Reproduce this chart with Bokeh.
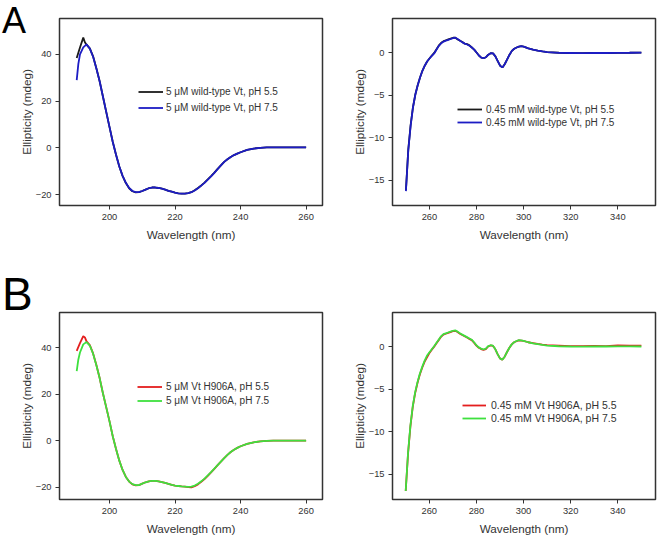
from bokeh.plotting import figure
from bokeh.models import (Range1d, FixedTicker, Legend, LegendItem, Div, GridBox)
from bokeh.embed import file_html
from bokeh.resources import INLINE

# ---------------- far-UV spectra, wild-type Vt (5 uM) ----------------
wt_far_nm_55 = [190, 191, 192, 192.5, 193, 194, 195, 196, 197, 198, 199, 200,
                201, 202, 203, 204, 205, 206, 207, 208, 209, 210, 211, 212,
                213, 214, 215, 216, 217, 218, 219, 220, 221, 222, 223, 224,
                225, 226, 227, 228, 229, 230, 231, 232, 233, 234, 235, 236,
                237, 238, 239, 240, 242, 244, 246, 248, 250, 255, 260]
wt_far_pH55 = [38.5, 43.0, 47.2, 45.2, 44.2, 42.6, 39.2, 34.1, 28.5, 22.0, 15.4, 9.0,
               2.6, -3.0, -8.0, -12.0, -15.1, -17.3, -18.6, -19.1, -19.0, -18.5, -17.9, -17.3,
               -17.0, -17.0, -17.2, -17.5, -17.9, -18.4, -18.8, -19.2, -19.5, -19.6, -19.6, -19.4,
               -19.0, -18.2, -17.2, -16.1, -14.9, -13.5, -12.1, -10.6, -9.0, -7.5, -6.0, -4.9,
               -3.9, -3.1, -2.5, -1.9, -0.9, -0.3, 0.0, 0.2, 0.2, 0.2, 0.2]

wt_far_nm_75 = [190, 190.5, 191, 192, 193, 194, 195, 196, 197, 198, 199, 200,
                201, 202, 203, 204, 205, 206, 207, 208, 209, 210, 211, 212,
                213, 214, 215, 216, 217, 218, 219, 220, 221, 222, 223, 224,
                225, 226, 227, 228, 229, 230, 231, 232, 233, 234, 235, 236,
                237, 238, 239, 240, 242, 244, 246, 248, 250, 255, 260]
wt_far_pH75 = [29.0, 36.0, 40.0, 43.0, 44.3, 42.5, 39.0, 34.0, 28.5, 22.0, 15.5, 9.0,
               2.5, -3.0, -8.0, -12.0, -15.0, -17.2, -18.5, -19.0, -19.0, -18.5, -17.9, -17.3,
               -17.0, -17.0, -17.2, -17.5, -17.9, -18.4, -18.8, -19.2, -19.5, -19.6, -19.6, -19.4,
               -19.0, -18.3, -17.3, -16.2, -15.0, -13.6, -12.2, -10.7, -9.1, -7.5, -6.0, -4.9,
               -3.9, -3.1, -2.5, -1.9, -0.9, -0.3, 0.0, 0.2, 0.2, 0.2, 0.2]

# ---------------- near-UV spectra, wild-type Vt (0.45 mM) ----------------
near_nm = [250, 251, 252, 253, 254, 255, 256, 257, 258, 259, 260, 261, 262, 263,
           264, 265, 266, 267, 268, 269, 270, 271, 272, 273, 274, 275, 276, 277,
           278, 279, 280, 281, 282, 283, 284, 285, 286, 287, 288, 289, 290, 291,
           292, 293, 294, 295, 296, 297, 298, 299, 300, 302, 304, 306, 308, 310,
           315, 320, 325, 330, 335, 340, 345, 350]
wt_near_pH55 = [-16.2, -11.4, -8.5, -6.4, -4.9, -3.8, -2.9, -2.1, -1.5, -1.0, -0.65, -0.3, 0.0, 0.45,
                0.9, 1.2, 1.4, 1.5, 1.6, 1.7, 1.8, 1.8, 1.6, 1.45, 1.3, 1.1, 1.05, 0.9,
                0.65, 0.4, 0.05, -0.3, -0.55, -0.62, -0.5, -0.2, -0.02, -0.05, -0.4, -0.95, -1.5, -1.7,
                -1.3, -0.75, -0.2, 0.25, 0.5, 0.65, 0.75, 0.8, 0.75, 0.55, 0.4, 0.28, 0.18, 0.1,
                0.03, 0.0, -0.02, 0.0, 0.0, 0.02, 0.03, 0.05]
wt_near_pH75 = [-16.3, -11.5, -8.6, -6.4, -4.9, -3.8, -2.9, -2.1, -1.5, -1.0, -0.65, -0.35, -0.05, 0.4,
                0.85, 1.15, 1.35, 1.45, 1.55, 1.65, 1.75, 1.8, 1.65, 1.45, 1.25, 1.1, 1.0, 0.85,
                0.65, 0.4, 0.05, -0.3, -0.55, -0.62, -0.5, -0.2, -0.02, -0.05, -0.4, -0.95, -1.5, -1.7,
                -1.3, -0.75, -0.2, 0.25, 0.5, 0.65, 0.75, 0.8, 0.75, 0.55, 0.4, 0.28, 0.18, 0.1,
                0.02, 0.0, -0.02, 0.0, 0.0, 0.02, 0.03, 0.05]

# ---------------- far-UV spectra, Vt H906A (5 uM) ----------------
mut_far_nm_55 = [190, 191, 192, 192.5, 193, 194, 195, 196, 197, 198, 199, 200,
                 201, 202, 203, 204, 205, 206, 207, 208, 209, 210, 211, 212,
                 213, 214, 215, 216, 217, 218, 219, 220, 221, 222, 223, 224,
                 225, 226, 227, 228, 229, 230, 231, 232, 233, 234, 235, 236,
                 237, 238, 239, 240, 242, 244, 246, 248, 250, 255, 260]
mut_far_pH55 = [38.7, 42.0, 45.0, 44.5, 42.8, 41.2, 37.6, 32.6, 27.0, 20.5, 14.5, 8.5,
                2.0, -3.5, -8.5, -12.5, -15.5, -17.5, -18.7, -19.1, -19.0, -18.4, -17.8, -17.4,
                -17.2, -17.2, -17.4, -17.7, -18.1, -18.5, -18.9, -19.2, -19.4, -19.6, -19.7, -19.9,
                -20.0, -19.5, -18.7, -17.6, -16.4, -15.0, -13.5, -12.0, -10.4, -8.9, -7.4, -6.0,
                -4.8, -3.8, -3.0, -2.3, -1.3, -0.6, -0.2, 0.0, 0.1, 0.1, 0.1]

mut_far_nm_75 = [190, 190.5, 191, 192, 193, 194, 195, 196, 197, 198, 199, 200,
                 201, 202, 203, 204, 205, 206, 207, 208, 209, 210, 211, 212,
                 213, 214, 215, 216, 217, 218, 219, 220, 221, 222, 223, 224,
                 225, 226, 227, 228, 229, 230, 231, 232, 233, 234, 235, 236,
                 237, 238, 239, 240, 242, 244, 246, 248, 250, 255, 260]
mut_far_pH75 = [30.0, 35.0, 38.0, 41.5, 42.5, 41.0, 37.5, 32.5, 27.0, 20.5, 14.5, 8.5,
                2.0, -3.5, -8.5, -12.5, -15.5, -17.5, -18.6, -19.0, -19.0, -18.4, -17.8, -17.4,
                -17.2, -17.2, -17.4, -17.7, -18.1, -18.5, -18.9, -19.2, -19.4, -19.6, -19.7, -19.8,
                -19.7, -19.2, -18.4, -17.4, -16.2, -14.8, -13.4, -11.9, -10.4, -8.9, -7.4, -6.0,
                -4.8, -3.8, -3.0, -2.3, -1.3, -0.6, -0.2, 0.0, 0.1, 0.1, 0.1]

# ---------------- near-UV spectra, Vt H906A (0.45 mM) ----------------
mut_near_pH55 = [-17.0, -12.6, -9.4, -7.1, -5.5, -4.3, -3.3, -2.5, -1.8, -1.3, -0.8, -0.4, -0.05, 0.35,
                 0.75, 1.15, 1.4, 1.5, 1.6, 1.7, 1.8, 1.85, 1.7, 1.5, 1.35, 1.2, 1.05, 0.9,
                 0.75, 0.45, 0.1, -0.15, -0.3, -0.4, -0.3, 0.0, 0.12, 0.08, -0.3, -0.9, -1.4, -1.55,
                 -1.2, -0.65, -0.15, 0.25, 0.5, 0.62, 0.72, 0.7, 0.65, 0.5, 0.4, 0.3, 0.22, 0.15,
                 0.1, 0.05, 0.05, 0.08, 0.05, 0.12, 0.1, 0.1]
mut_near_pH75 = [-17.0, -12.5, -9.3, -7.0, -5.4, -4.2, -3.2, -2.4, -1.7, -1.1, -0.7, -0.35, 0.0, 0.4,
                 0.8, 1.2, 1.45, 1.55, 1.65, 1.75, 1.85, 1.9, 1.75, 1.55, 1.4, 1.25, 1.1, 0.95,
                 0.8, 0.5, 0.15, -0.1, -0.25, -0.35, -0.25, 0.05, 0.15, 0.1, -0.3, -0.9, -1.4, -1.55,
                 -1.2, -0.65, -0.15, 0.25, 0.5, 0.65, 0.75, 0.72, 0.65, 0.5, 0.38, 0.28, 0.18, 0.1,
                 0.03, 0.0, -0.02, 0.0, 0.0, 0.02, 0.02, 0.0]

far_ticks_x = [200, 220, 240, 260]
far_ticks_y = [-20, 0, 20, 40]
near_ticks_x = [260, 280, 300, 320, 340]
near_ticks_y = [-15, -10, -5, 0]

labels_wt_far = ["5 \u03bcM wild-type Vt, pH 5.5", "5 \u03bcM wild-type Vt, pH 7.5"]
labels_wt_near = ["0.45 mM wild-type Vt, pH 5.5", "0.45 mM wild-type Vt, pH 7.5"]
labels_mut_far = ["5 \u03bcM Vt H906A, pH 5.5", "5 \u03bcM Vt H906A, pH 7.5"]
labels_mut_near = ["0.45 mM Vt H906A, pH 5.5", "0.45 mM Vt H906A, pH 7.5"]

FONT = "Liberation Sans"
TXT = "#333333"


def panel(width, height, borders, xr, yr, xticks, yticks):
    left, right, top, bottom = borders
    p = figure(width=width, height=height, output_backend="svg",
               toolbar_location=None, x_range=Range1d(*xr), y_range=Range1d(*yr),
               min_border_left=left, min_border_right=right,
               min_border_top=top, min_border_bottom=bottom)
    p.grid.visible = False
    p.outline_line_color = "#333333"
    p.outline_line_width = 1.5
    p.outline_line_alpha = 1.0
    p.background_fill_color = "white"
    p.border_fill_color = "white"
    p.xaxis.ticker = FixedTicker(ticks=xticks)
    p.yaxis.ticker = FixedTicker(ticks=yticks)
    for ax in (p.xaxis[0], p.yaxis[0]):
        ax.axis_line_color = None
        ax.major_tick_out = 4
        ax.major_tick_in = 0
        ax.major_tick_line_color = "#333333"
        ax.minor_tick_line_color = None
        ax.major_label_text_font = FONT
        ax.major_label_text_font_size = "9.3px"
        ax.major_label_text_color = TXT
        ax.axis_label_text_font = FONT
        ax.axis_label_text_font_size = "11.7px"
        ax.axis_label_text_font_style = "normal"
        ax.axis_label_text_color = TXT
    p.xaxis.axis_label = "Wavelength (nm)"
    p.yaxis.axis_label = "Ellipticity (mdeg)"
    p.xaxis.major_label_standoff = 4
    p.yaxis.major_label_standoff = 4
    p.xaxis.axis_label_standoff = 5
    p.yaxis.axis_label_standoff = 0
    return p


def add_legend(p, renderers, labels, loc, row_h, standoff, glyph_w, size):
    leg = Legend(items=[LegendItem(label=l, renderers=[r]) for l, r in zip(labels, renderers)],
                 location=loc, padding=0, margin=0, spacing=1,
                 label_height=row_h, glyph_height=row_h, glyph_width=glyph_w,
                 label_standoff=standoff, border_line_color=None,
                 background_fill_alpha=0, label_text_font=FONT,
                 label_text_font_size=size, label_text_color=TXT)
    p.add_layout(leg)


def panel_letter(text, size, dx, dy):
    # large panel letter laid over the top-left corner of a grid cell
    html = ('<span style="position:relative; left:%dpx; top:%dpx; font-family:\'%s\'; '
            'font-size:%dpx; line-height:%dpx; color:black;">%s</span>'
            % (dx, dy, FONT, size, size, text))
    return Div(text=html, width=40, height=46, align="start",
               styles={"overflow": "visible"})


LW = 1.8
BLACK, BLUE = "#1a1a1a", "#1c1cc4"
RED, GREEN = "#e41e1e", "#3ee03e"

# A: wild-type far-UV
p1 = panel(330, 270, (59, 8, 18, 65), (184.75, 265.0), (-24.7, 55.4), far_ticks_x, far_ticks_y)
r1a = p1.line(wt_far_nm_55, wt_far_pH55, line_color=BLACK, line_width=LW)
r1b = p1.line(wt_far_nm_75, wt_far_pH75, line_color=BLUE, line_width=LW)
add_legend(p1, [r1a, r1b], labels_wt_far, (79, 90), 15, 3, 25, "10px")

# A: wild-type near-UV
p2 = panel(332, 270, (62, 7, 18, 64), (244.3, 356.0), (-18.0, 4.07), near_ticks_x, near_ticks_y)
r2a = p2.line(near_nm, wt_near_pH55, line_color=BLACK, line_width=LW)
r2b = p2.line(near_nm, wt_near_pH75, line_color=BLUE, line_width=LW)
add_legend(p2, [r2a, r2b], labels_wt_near, (65, 77), 12, 4, 25, "10px")

# B: H906A far-UV
p3 = panel(330, 285, (59, 8, 42, 56), (184.75, 265.0), (-25.2, 55.2), far_ticks_x, far_ticks_y)
r3a = p3.line(mut_far_nm_55, mut_far_pH55, line_color=RED, line_width=LW)
r3b = p3.line(mut_far_nm_75, mut_far_pH75, line_color=GREEN, line_width=LW)
add_legend(p3, [r3a, r3b], labels_mut_far, (78, 92), 13, 4, 25, "10px")

# B: H906A near-UV
p4 = panel(332, 285, (62, 7, 42, 56), (244.4, 356.0), (-18.0, 4.0), near_ticks_x, near_ticks_y)
r4a = p4.line(near_nm, mut_near_pH55, line_color=RED, line_width=LW)
r4b = p4.line(near_nm, mut_near_pH75, line_color=GREEN, line_width=LW)
add_legend(p4, [r4a, r4b], labels_mut_near, (70, 75), 12, 5, 24, "10.5px")

letter_a = panel_letter("A", 36, -3, -2)
letter_b = panel_letter("B", 46, -3, -4)

layout = GridBox(children=[(p1, 0, 0), (p2, 0, 1), (p3, 1, 0), (p4, 1, 1),
                           (letter_a, 0, 0), (letter_b, 1, 0)], spacing=0)
open("out.html", "w").write(file_html(layout, INLINE))
